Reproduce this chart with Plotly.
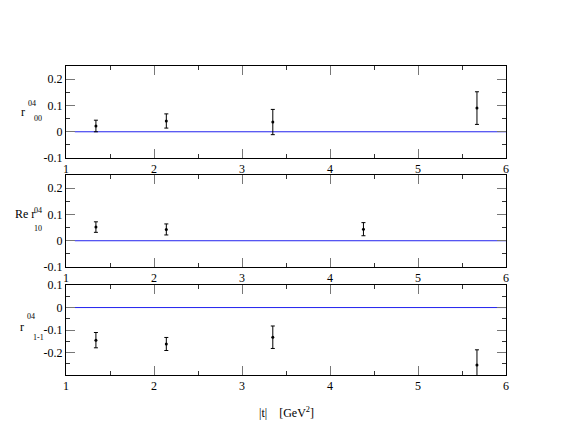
import plotly.graph_objects as go

# |t| bins and spin density matrix elements
t_r00 = [1.34, 2.14, 3.35, 5.67]
r00 = [0.022, 0.041, 0.037, 0.090]
r00_err = [0.022, 0.027, 0.048, 0.062]

t_r10 = [1.34, 2.14, 4.38]
r10 = [0.052, 0.043, 0.044]
r10_err = [0.020, 0.021, 0.025]

t_r1m1 = [1.34, 2.14, 3.35, 5.67]
r1m1 = [-0.145, -0.162, -0.132, -0.255]
r1m1_err = [0.034, 0.029, 0.050, 0.067]

zero_x = [1.1, 6.0]
zero_y = [0.0, 0.0]

x_ticks = [1, 2, 3, 4, 5, 6]
y_ticks_top = [-0.1, 0, 0.1, 0.2]
y_ticks_bot = [-0.2, -0.1, 0, 0.1]

FONT = "Liberation Serif, Times New Roman, serif"
panels = [
    (t_r00, r00, r00_err, [0.702, 1.0], [-0.1, 0.25], y_ticks_top),
    (t_r10, r10, r10_err, [0.3495, 0.647], [-0.1, 0.25], y_ticks_top),
    (t_r1m1, r1m1, r1m1_err, [0.0, 0.291], [-0.3, 0.1], y_ticks_bot),
]

fig = go.Figure()
layout = {}
for i, (xs, ys, es, dom, yr, yt) in enumerate(panels, start=1):
    xa = "x" if i == 1 else f"x{i}"
    ya = "y" if i == 1 else f"y{i}"
    fig.add_trace(go.Scatter(x=zero_x, y=zero_y, mode="lines",
                             line=dict(color="#2222ee", width=1),
                             xaxis=xa, yaxis=ya, showlegend=False))
    fig.add_trace(go.Scatter(x=xs, y=ys, mode="markers",
                             marker=dict(color="black", size=3),
                             error_y=dict(type="data", array=es, width=2,
                                          thickness=1, color="black"),
                             xaxis=xa, yaxis=ya, showlegend=False))
    axis_common = dict(showline=True, linecolor="black", linewidth=1,
                       mirror="ticks", ticks="inside", ticklen=9,
                       tickcolor="#777", tickwidth=1, showgrid=False,
                       zeroline=False,
                       tickfont=dict(family=FONT, size=12, color="black"))
    layout["xaxis" if i == 1 else f"xaxis{i}"] = dict(
        axis_common, range=[1, 6], tickvals=x_ticks,
        anchor=ya, domain=[0, 1],
        minor=dict(dtick=0.5, ticklen=4, tickcolor="#333", ticks="inside"))
    layout["yaxis" if i == 1 else f"yaxis{i}"] = dict(
        axis_common, range=yr, tickvals=yt, ticktext=[f"{v:g}" for v in yt],
        anchor=xa, domain=dom,
        minor=dict(dtick=0.05, ticklen=4, tickcolor="#333", ticks="inside"))

fig.update_layout(**layout)

def label(text, x, y, size=12):
    fig.add_annotation(text=text, x=x, y=y, xref="paper", yref="paper",
                       xanchor="left", yanchor="middle", showarrow=False,
                       font=dict(family=FONT, size=size, color="black"))

# pixel -> paper helpers (plot area 66..506 x, 66..375 y)
def px(xp):
    return (xp - 66) / 440.0

def py(yp):
    return (375 - yp) / 309.0

label("r", px(19), py(112))
label("04", px(26), py(103), 8)
label("00", px(32), py(119), 8)

label("Re r", px(13), py(214))
label("04", px(32), py(210), 8)
label("10", px(32), py(228), 8)

label("r", px(18), py(327))
label("04", px(25), py(316), 8)
label("1-1", px(31), py(337), 8)

fig.add_annotation(text="|t|    [GeV<sup>2</sup>]", x=px(257), y=py(412),
                   xref="paper", yref="paper", xanchor="left",
                   yanchor="middle", showarrow=False,
                   font=dict(family=FONT, size=12, color="black"))

fig.update_layout(width=572, height=442,
                  margin=dict(l=66, r=66, t=66, b=67),
                  paper_bgcolor="white", plot_bgcolor="white")

fig.write_html("out.html", config={"displayModeBar": False},
               post_script="document.body.style.margin='0';")
